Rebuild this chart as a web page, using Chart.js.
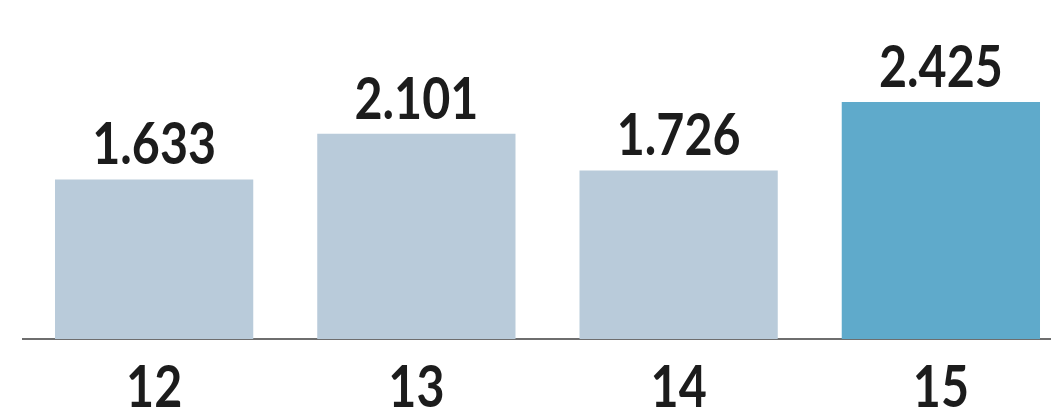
<!DOCTYPE html>
<html lang="en">
<head>
    <meta charset="UTF-8">
    <title>Bar chart</title>
    <style>
        body {
            margin: 0;
            padding: 0;
            overflow: hidden;
            background-color: #fff;
        }
        #chart {
            display: block;
        }
    </style>
</head>
<body>
    <!-- canvas is a bit wider than the window: the last bar is cut at the right edge like in the original -->
    <canvas id="chart" width="1072" height="416"></canvas>

    <script src="https://cdn.jsdelivr.net/npm/chart.js/dist/chart.umd.min.js"></script>
    <script>
        // data
        const years = ['12', '13', '14', '15']
        const values = [1633, 2101, 1726, 2425]
        const barColors = ['#b9cbda', '#b9cbda', '#b9cbda', '#5faacb']

        const fontFamily = "Lato, 'DejaVu Sans Condensed', sans-serif"
        const squeeze = 0.85   // condensed look of the original lettering

        // 1633 -> "1.633"
        function fmt(v) {
            return String(v).replace(/\B(?=(\d{3})+(?!\d))/g, '.')
        }

        function drawText(ctx, text, x, y) {
            ctx.save()
            ctx.translate(x, y)
            ctx.scale(squeeze, 1)
            ctx.fillText(text, 0, 0)
            ctx.restore()
        }

        // numbers above the bars + the year labels under the axis
        const labelsPlugin = {
            id: 'labelsPlugin',
            afterDatasetsDraw(chart) {
                const ctx = chart.ctx
                const meta = chart.getDatasetMeta(0)
                const xScale = chart.scales.x
                ctx.save()
                ctx.font = 'bold 57px ' + fontFamily
                ctx.fillStyle = '#1c1c1c'
                ctx.textAlign = 'center'
                ctx.textBaseline = 'alphabetic'
                meta.data.forEach((bar, i) => {
                    drawText(ctx, fmt(values[i]), bar.x, bar.y - 15)
                })
                years.forEach((yr, i) => {
                    drawText(ctx, yr, xScale.getPixelForTick(i), chart.chartArea.bottom + 68)
                })
                ctx.restore()
            }
        }

        const config = {
            type: 'bar',
            data: {
                labels: years,
                datasets: [{
                    data: values,
                    backgroundColor: barColors,
                    borderWidth: 0,
                    categoryPercentage: 1,
                    barPercentage: 0.756
                }]
            },
            options: {
                responsive: false,
                animation: false,
                layout: {
                    padding: { left: 23, right: 0, top: 0, bottom: 0 }
                },
                plugins: {
                    legend: { display: false },
                    tooltip: { enabled: false }
                },
                scales: {
                    x: {
                        grid: {
                            display: false,
                            drawTicks: false
                        },
                        border: {
                            display: true,
                            color: '#6e6e6e',
                            width: 2
                        },
                        ticks: {
                            display: false
                        },
                        afterFit: (scale) => {
                            scale.height = 77
                        }
                    },
                    y: {
                        display: false,
                        min: 0,
                        max: 3470
                    }
                }
            },
            plugins: [labelsPlugin]
        }

        const chart = new Chart(document.getElementById('chart'), config)
    </script>
</body>
</html>
